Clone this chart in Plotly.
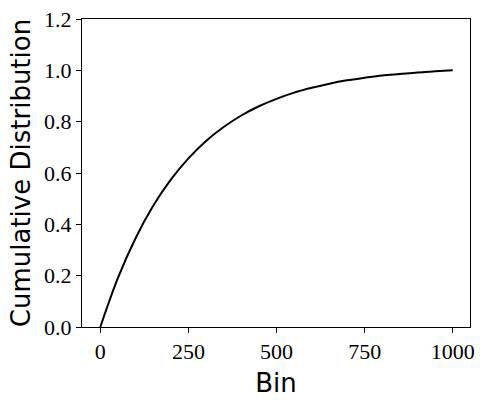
import plotly.graph_objects as go

# Data
bins = [0, 50, 100, 150, 200, 250, 300, 350, 400, 450, 500,
        550, 600, 650, 700, 750, 800, 850, 900, 950, 1000]
cumulative = [0.0, 0.191, 0.346, 0.472, 0.574, 0.657, 0.725, 0.779, 0.824, 0.860, 0.889,
              0.913, 0.932, 0.948, 0.961, 0.971, 0.980, 0.986, 0.992, 0.996, 1.0]

x_ticks = [0, 250, 500, 750, 1000]
y_ticks = [0.0, 0.2, 0.4, 0.6, 0.8, 1.0, 1.2]
y_tick_labels = ["0.0", "0.2", "0.4", "0.6", "0.8", "1.0", "1.2"]

tick_font = dict(family="Liberation Serif, DejaVu Serif, serif", size=22, color="black")
title_font = dict(family="DejaVu Sans, sans-serif", size=26, color="black")

fig = go.Figure()
fig.add_trace(go.Scatter(
    x=bins, y=cumulative, mode="lines",
    line=dict(color="black", width=2, shape="spline"),
    showlegend=False,
))

fig.update_layout(
    width=485, height=405,
    margin=dict(l=82, r=15, t=19, b=78),
    paper_bgcolor="white", plot_bgcolor="white",
)
fig.update_xaxes(
    range=[-52, 1049], automargin=False,
    tickvals=x_ticks, ticktext=[str(v) for v in x_ticks],
    ticks="outside", ticklen=5, tickwidth=1, tickcolor="black",
    showline=True, linecolor="black", linewidth=1, mirror=True,
    showgrid=False, zeroline=False,
    tickfont=tick_font,
    title=dict(text="Bin", font=title_font, standoff=10),
)
fig.update_yaxes(
    range=[0, 1.2], automargin=False,
    tickvals=y_ticks, ticktext=y_tick_labels,
    ticks="outside", ticklen=5, tickwidth=1, tickcolor="black",
    showline=True, linecolor="black", linewidth=1, mirror=True,
    showgrid=False, zeroline=False,
    tickfont=tick_font,
    title=dict(text="Cumulative Distribution", font=title_font, standoff=5),
)

fig.write_html(
    "out.html",
    config={"displayModeBar": False},
    post_script="document.body.style.margin='0';document.body.style.padding='0';document.body.style.overflow='hidden';",
)
